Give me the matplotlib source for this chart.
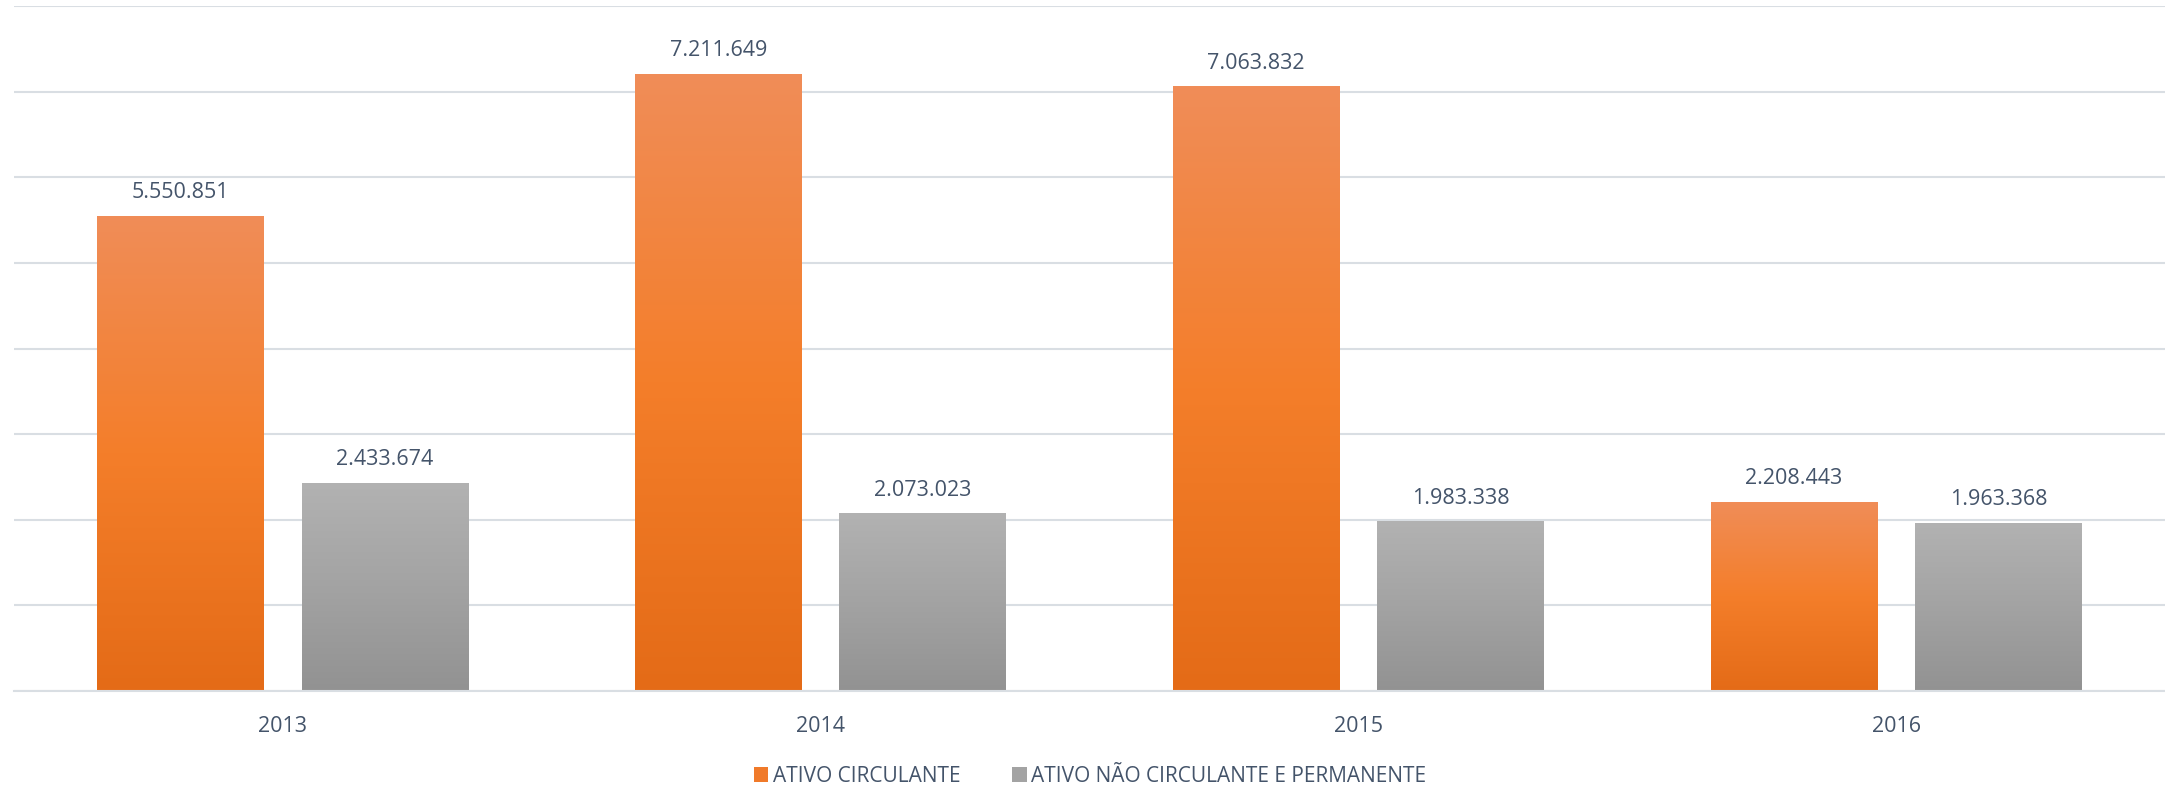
import numpy as np
import matplotlib
matplotlib.use('Agg')
import matplotlib.pyplot as plt
from matplotlib.colors import LinearSegmentedColormap
from matplotlib.patches import Patch

# dados do gráfico
anos = ['2013', '2014', '2015', '2016']
ativo_circulante = [5550851, 7211649, 7063832, 2208443]
ativo_nao_circulante = [2433674, 2073023, 1983338, 1963368]
series_nomes = ['ATIVO CIRCULANTE', 'ATIVO NÃO CIRCULANTE E PERMANENTE']

plt.rcParams['font.family'] = ['Open Sans', 'DejaVu Sans']
cor_texto = '#44546A'

# gradientes (topo -> base)
grad_laranja = LinearSegmentedColormap.from_list('lar', ['#E46B17', '#F47E2A', '#F08D58'])
grad_cinza = LinearSegmentedColormap.from_list('cin', ['#929292', '#A3A3A3', '#B2B2B2'])


def fmt_br(v):
    """Formata número com ponto como separador de milhar"""
    return f'{v:,}'.replace(',', '.')


def pinta_gradiente(ax, barras, cmap):
    """Preenche cada barra com um gradiente vertical"""
    grad = np.linspace(0, 1, 256).reshape(-1, 1)
    for b in barras:
        x0, y0 = b.get_x(), b.get_y()
        w, h = b.get_width(), b.get_height()
        im = ax.imshow(grad, cmap=cmap, origin='lower', aspect='auto',
                       extent=(x0, x0 + w, y0, y0 + h), zorder=b.get_zorder() + 0.1)
        im.set_clip_path(b)


fig = plt.figure(figsize=(21.65, 7.92), dpi=100)
ax = fig.add_axes([14 / 2165, 1 - 691 / 792, 1 - 14 / 2165, (691 - 6) / 792])

x = np.arange(len(anos))
largura = 0.31
desloc = 0.19

b1 = ax.bar(x - desloc, ativo_circulante, largura, color='#F47E2A', zorder=2)
b2 = ax.bar(x + desloc, ativo_nao_circulante, largura, color='#A3A3A3', zorder=2)
pinta_gradiente(ax, b1, grad_laranja)
pinta_gradiente(ax, b2, grad_cinza)

for barras in (b1, b2):
    for b in barras:
        ax.annotate(fmt_br(int(b.get_height())),
                    (b.get_x() + b.get_width() / 2, b.get_height()),
                    xytext=(0, 9), textcoords='offset points',
                    ha='center', va='bottom', fontsize=15.5, color=cor_texto)

ax.set_xlim(-0.5, 3.5)
ax.set_ylim(0, 8000000)
ax.set_yticks(np.arange(0, 8000001, 1000000))
ax.yaxis.grid(True, color='#D9DEE3', linewidth=1.5, zorder=0)
ax.set_axisbelow(True)
ax.tick_params(axis='y', left=False, labelleft=False)
ax.set_xticks(x)
ax.set_xticklabels(anos, fontsize=15.5, color=cor_texto)
ax.tick_params(axis='x', length=0, pad=18)
for s in ['top', 'right', 'left']:
    ax.spines[s].set_visible(False)
ax.spines['bottom'].set_color('#D9DEE3')
ax.spines['bottom'].set_linewidth(1.5)

handles = [Patch(facecolor='#F07A2A'), Patch(facecolor='#A3A3A3')]
fig.legend(handles, series_nomes, loc='center', bbox_to_anchor=(1090 / 2165, 1 - 776 / 792),
           ncol=2, frameon=False, fontsize=15, labelcolor=cor_texto,
           handlelength=0.7, handleheight=0.7, handletextpad=0.2, columnspacing=2.5)

fig.savefig('out.png', dpi=100)
